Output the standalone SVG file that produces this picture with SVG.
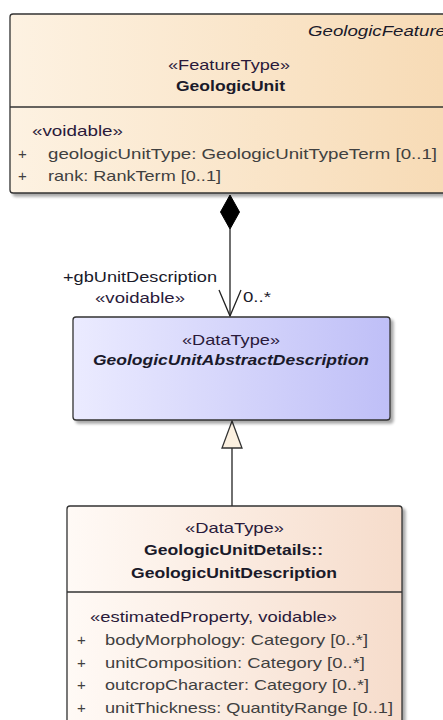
<svg xmlns="http://www.w3.org/2000/svg" width="443" height="720" viewBox="0 0 443 720">
<defs>
<linearGradient id="gFeat" x1="0" y1="0" x2="1" y2="0">
<stop offset="0" stop-color="#fdf2e2"/>
<stop offset="1" stop-color="#f7dab4"/>
</linearGradient>
<linearGradient id="gAbs" x1="0" y1="0" x2="1" y2="0">
<stop offset="0" stop-color="#ebebff"/>
<stop offset="1" stop-color="#bfbff7"/>
</linearGradient>
<linearGradient id="gDesc" x1="0" y1="0" x2="1" y2="0">
<stop offset="0" stop-color="#fffaf6"/>
<stop offset="1" stop-color="#f6dccb"/>
</linearGradient>
<filter id="sh" x="-5%" y="-5%" width="115%" height="115%">
<feGaussianBlur in="SourceAlpha" stdDeviation="1.5"/>
<feOffset dx="3" dy="3" result="b"/>
<feComponentTransfer><feFuncA type="linear" slope="0.35"/></feComponentTransfer>
<feMerge><feMergeNode/><feMergeNode in="SourceGraphic"/></feMerge>
</filter>
</defs>
<style>
text{font-family:"Liberation Sans",Arial,sans-serif;font-size:15px;fill:#1a1a2a}
.b{font-weight:bold}
.i{font-style:italic}
.s{fill:#2a1a3a}
.a{fill:#404040}
.box{stroke:#333;stroke-width:1.3}
.ln{stroke:#222;stroke-width:1.3;fill:none}
</style>
<g id="connectors">
<line class="ln" x1="230" y1="229" x2="230" y2="316"/>
<polygon points="230,195 239.5,212 230,229 220.5,212" fill="#000" stroke="#000"/>
<polyline class="ln" points="219,290 230,316 241,290"/>
<text x="63" y="282" textLength="154" lengthAdjust="spacingAndGlyphs">+gbUnitDescription</text>
<text x="95" y="303" textLength="90" lengthAdjust="spacingAndGlyphs" class="s">«voidable»</text>
<text x="243" y="301.5" textLength="28" lengthAdjust="spacingAndGlyphs">0..*</text>
<line class="ln" x1="232" y1="448" x2="232" y2="506"/>
<polygon points="232,421 242,448 222,448" fill="#fbf0e0" stroke="#333" stroke-width="1.3"/>
</g>
<g id="GeologicUnit">
<rect class="box" x="10" y="14" width="450" height="179" rx="3" fill="url(#gFeat)" filter="url(#sh)"/>
<line class="box" x1="10" y1="107" x2="460" y2="107"/>
<text x="308" y="35.5" textLength="138" lengthAdjust="spacingAndGlyphs" class="i">GeologicFeature</text>
<text x="168" y="70" textLength="122" lengthAdjust="spacingAndGlyphs" class="s">«FeatureType»</text>
<text x="176" y="91" textLength="109" lengthAdjust="spacingAndGlyphs" class="b">GeologicUnit</text>
<text x="32" y="135.5" textLength="91" lengthAdjust="spacingAndGlyphs" class="s">«voidable»</text>
<text x="18" y="158.5" class="a">+</text>
<text x="48" y="158.5" textLength="389" lengthAdjust="spacingAndGlyphs" class="a">geologicUnitType: GeologicUnitTypeTerm [0..1]</text>
<text x="18" y="180.5" class="a">+</text>
<text x="48" y="180.5" textLength="173" lengthAdjust="spacingAndGlyphs" class="a">rank: RankTerm [0..1]</text>
</g>
<g id="GeologicUnitAbstractDescription">
<rect class="box" x="73" y="317" width="317" height="103" rx="3" fill="url(#gAbs)" filter="url(#sh)"/>
<text x="182" y="345" textLength="98" lengthAdjust="spacingAndGlyphs" class="s">«DataType»</text>
<text x="93" y="365" textLength="276" lengthAdjust="spacingAndGlyphs" class="b i">GeologicUnitAbstractDescription</text>
</g>
<g id="GeologicUnitDescription">
<rect class="box" x="67" y="506" width="335" height="230" rx="3" fill="url(#gDesc)" filter="url(#sh)"/>
<line class="box" x1="67" y1="592" x2="402" y2="592"/>
<text x="185" y="532.5" textLength="99" lengthAdjust="spacingAndGlyphs" class="s">«DataType»</text>
<text x="144" y="555" textLength="179" lengthAdjust="spacingAndGlyphs" class="b">GeologicUnitDetails::</text>
<text x="131" y="577.5" textLength="206" lengthAdjust="spacingAndGlyphs" class="b">GeologicUnitDescription</text>
<text x="90" y="621.5" textLength="247" lengthAdjust="spacingAndGlyphs" class="s">«estimatedProperty, voidable»</text>
<text x="77" y="644.5" class="a">+</text>
<text x="105" y="644.5" textLength="263" lengthAdjust="spacingAndGlyphs" class="a">bodyMorphology: Category [0..*]</text>
<text x="77" y="667.5" class="a">+</text>
<text x="105" y="667.5" textLength="260" lengthAdjust="spacingAndGlyphs" class="a">unitComposition: Category [0..*]</text>
<text x="77" y="690" class="a">+</text>
<text x="105" y="690" textLength="264" lengthAdjust="spacingAndGlyphs" class="a">outcropCharacter: Category [0..*]</text>
<text x="77" y="712.5" class="a">+</text>
<text x="105" y="712.5" textLength="288" lengthAdjust="spacingAndGlyphs" class="a">unitThickness: QuantityRange [0..1]</text>
</g>
</svg>
